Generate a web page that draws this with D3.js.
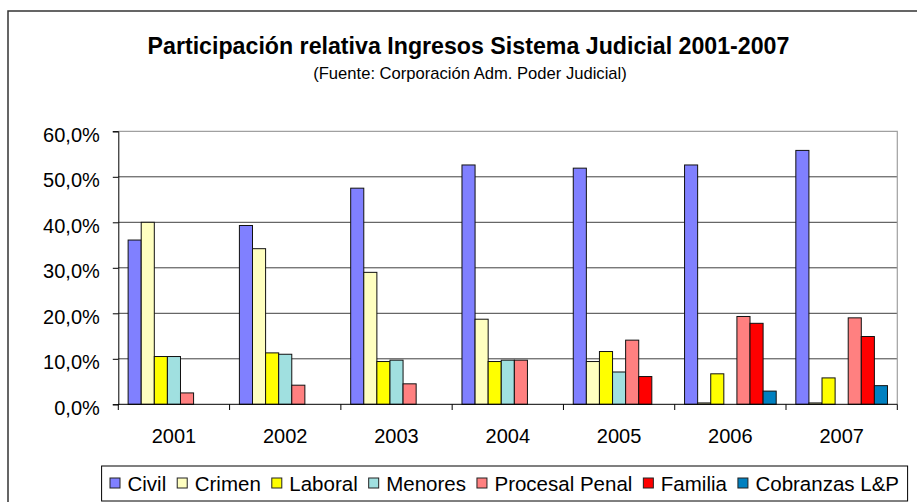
<!DOCTYPE html>
<html>
<head>
<meta charset="utf-8">
<script src="https://cdn.jsdelivr.net/npm/d3@7"></script>
<style>
  body { margin: 0; background: #fff; }
  text { font-family: "Liberation Sans", Arial, sans-serif; fill: #000; }
</style>
</head>
<body>
<svg id="chart" width="917" height="502"></svg>
<script>
var years = ["2001", "2002", "2003", "2004", "2005", "2006", "2007"]
var series = ["Civil", "Crimen", "Laboral", "Menores", "Procesal Penal", "Familia", "Cobranzas L&P"]
var colors = ["#8080ff", "#ffffc0", "#ffff00", "#a0e0e0", "#ff8080", "#ff0000", "#0080c0"]
// values in %, null = no bar
var civil     = [36.1, 39.3, 47.5, 52.6, 51.9, 52.6, 55.8]
var crimen    = [40.0, 34.2, 29.0, 18.7, 9.4, 0.3, 0.3]
var laboral   = [10.5, 11.3, 9.4, 9.4, 11.6, 6.7, 5.8]
var menores   = [10.5, 11.0, 9.7, 9.7, 7.1, null, null]
var procesal  = [2.5, 4.2, 4.5, 9.7, 14.1, 19.3, 19.0]
var familia   = [null, null, null, null, 6.1, 17.8, 14.9]
var cobranzas = [null, null, null, null, null, 2.9, 4.1]
var yTicks = [0, 10, 20, 30, 40, 50, 60]

var values = [civil, crimen, laboral, menores, procesal, familia, cobranzas]

var svg = d3.select("#chart")
// plot area box (window.top is taken, so pl_ names)
var pl_left = 118.3, pl_right = 897.3, pl_top = 131.3, pl_bottom = 404.3

// outer chart frame (runs off the picture to right and bottom)
svg.append("rect")
  .attr("x", 8).attr("y", 11)
  .attr("width", 1000).attr("height", 1000)
  .attr("fill", "none").attr("stroke", "#333").attr("stroke-width", 1.5)

svg.append("text")
  .attr("x", 468.5).attr("y", 54)
  .attr("text-anchor", "middle")
  .style("font-size", "23.2px").style("font-weight", "bold")
  .text("Participación relativa Ingresos Sistema Judicial 2001-2007")
svg.append("text")
  .attr("x", 470).attr("y", 79)
  .attr("text-anchor", "middle")
  .style("font-size", "16.6px")
  .text("(Fuente: Corporación Adm. Poder Judicial)")

var y = d3.scaleLinear().domain([0, 60]).range([pl_bottom, pl_top])
var x0 = d3.scaleBand().domain(years).range([pl_left, pl_right]).padding(0)
var x1 = d3.scaleBand().domain(series).range([0, x0.bandwidth()])
  .paddingInner(0).paddingOuter(0.75)

// gridlines
svg.append("g")
  .selectAll("line")
  .data(yTicks.filter(d => d > 0 && d < 60))
  .join("line")
  .attr("x1", pl_left).attr("x2", pl_right)
  .attr("y1", d => y(d)).attr("y2", d => y(d))
  .attr("stroke", "#404040").attr("stroke-width", 1)

// plot area border, top and right
svg.append("path")
  .attr("d", "M" + pl_left + " " + y(60) + " H" + pl_right + " V" + pl_bottom)
  .attr("fill", "none").attr("stroke", "#a0a0a0").attr("stroke-width", 1.2)

// bars
var groups = svg.append("g")
  .selectAll("g")
  .data(years)
  .join("g")
  .attr("transform", d => "translate(" + x0(d) + ",0)")
groups.selectAll("rect")
  .data((yr, i) => series.map((s, j) => ({ s: s, c: colors[j], v: values[j][i] }))
    .filter(d => d.v != null))
  .join("rect")
  .attr("x", d => x1(d.s))
  .attr("y", d => y(d.v))
  .attr("width", x1.bandwidth())
  .attr("height", d => pl_bottom - y(d.v))
  .attr("fill", d => d.c)
  .attr("stroke", "#111").attr("stroke-width", 1)

// y axis
var yAxis = svg.append("g")
  .attr("transform", "translate(" + pl_left + ",0)")
  .call(d3.axisLeft(y).tickValues(yTicks).tickSize(5.5).tickPadding(13)
    .tickFormat(d => d3.format(".1f")(d).replace(".", ",") + "%"))
yAxis.select(".domain").attr("stroke", "#000")
yAxis.selectAll(".tick line").attr("stroke", "#000")
yAxis.selectAll("text")
  .attr("dy", "0.5em")
  .style("font-size", "20px").style("font-family", "'Liberation Sans', Arial, sans-serif")

// x axis: ticks sit on category borders
var xg = svg.append("g")
xg.append("line")
  .attr("x1", pl_left).attr("x2", pl_right)
  .attr("y1", pl_bottom).attr("y2", pl_bottom)
  .attr("stroke", "#000")
xg.selectAll(".xt")
  .data(years.concat(["end"]))
  .join("line")
  .attr("class", "xt")
  .attr("x1", d => d == "end" ? pl_right : x0(d))
  .attr("x2", d => d == "end" ? pl_right : x0(d))
  .attr("y1", pl_bottom).attr("y2", pl_bottom + 5.7)
  .attr("stroke", "#000")
xg.selectAll("text")
  .data(years)
  .join("text")
  .attr("x", d => x0(d) + x0.bandwidth() / 2)
  .attr("y", 443.3)
  .attr("text-anchor", "middle")
  .style("font-size", "20px")
  .text(d => d)

// legend
var lg = svg.append("g")
lg.append("rect")
  .attr("x", 101.6).attr("y", 466)
  .attr("width", 806).attr("height", 35)
  .attr("fill", "#fff").attr("stroke", "#000").attr("stroke-width", 1)
var lx = 110
series.forEach(function (s, i) {
  lg.append("rect")
    .attr("x", lx).attr("y", 478)
    .attr("width", 10).attr("height", 10)
    .attr("fill", colors[i]).attr("stroke", "#222").attr("stroke-width", 1)
  var t = lg.append("text")
    .attr("x", lx + 17.5).attr("y", 490.7)
    .style("font-size", "20.5px")
    .text(s)
  lx += 17.5 + t.node().getComputedTextLength() + 11
})
</script>
</body>
</html>
